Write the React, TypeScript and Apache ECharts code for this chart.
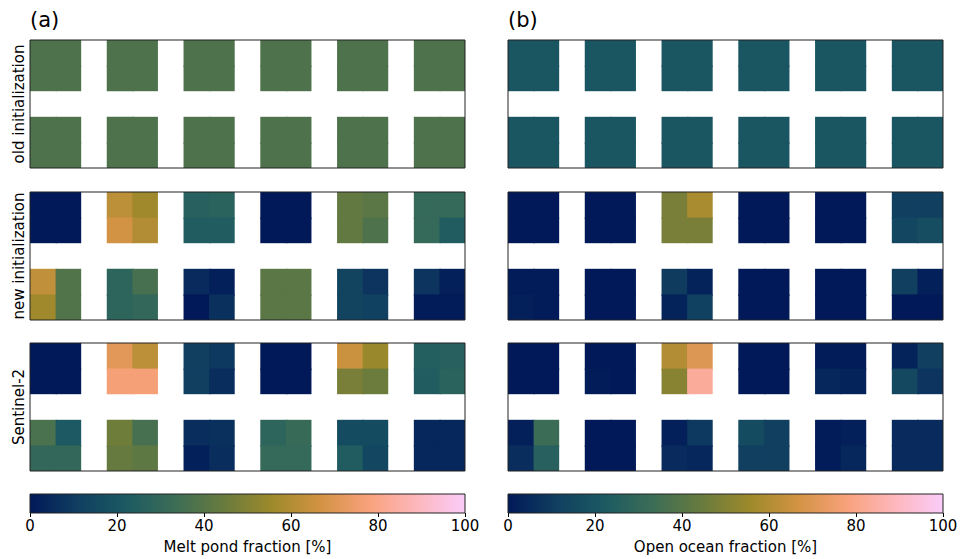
import React, { useEffect, useRef } from "react";
import * as echarts from "echarts";

// batlow colour map (Crameri), 10 stops
const BATLOW = ["#011959", "#103F60", "#1C5A62", "#3C6D56", "#687B3E", "#9D892B", "#D29343", "#F8A17B", "#FDB7BC", "#FACCFA"];

const rowLabels = ["old initialization", "new initialization", "Sentinel-2"];
const panelTitles = ["(a)", "(b)"];
const cbarNames = ["Melt pond fraction [%]", "Open ocean fraction [%]"];
const cbarTicks = [0, 20, 40, 60, 80, 100];

// Each panel: 4 data rows (top block row: rows 0-1, bottom block row: rows 2-3) x 12 data columns (6 blocks of 2)
const meltOld = [
  [38, 38, 38, 38, 38, 38, 38, 38, 38, 38, 38, 38],
  [38, 38, 38, 38, 38, 38, 38, 38, 38, 38, 38, 38],
  [38, 38, 38, 38, 38, 38, 38, 38, 38, 38, 38, 38],
  [38, 38, 38, 38, 38, 38, 38, 38, 38, 38, 38, 38],
];
const oceanOld = [
  [20, 20, 20, 20, 20, 20, 20, 20, 20, 20, 20, 20],
  [20, 20, 20, 20, 20, 20, 20, 20, 20, 20, 20, 20],
  [20, 20, 20, 20, 20, 20, 20, 20, 20, 20, 20, 20],
  [20, 20, 20, 20, 20, 20, 20, 20, 20, 20, 20, 20],
];
const meltNew = [
  [0, 0, 62, 56, 26, 27, 0, 0, 43, 41, 31, 31],
  [0, 0, 67, 60, 24, 24, 0, 0, 43, 38, 31, 24],
  [63, 39, 28, 36, 5, 2, 41, 41, 13, 8, 8, 2],
  [56, 39, 28, 30, 0, 7, 41, 41, 13, 12, 1, 1],
];
const oceanNew = [
  [0, 0, 0, 0, 48, 58, 0, 0, 0, 0, 11, 11],
  [0, 0, 0, 0, 48, 48, 0, 0, 0, 0, 14, 17],
  [1, 1, 0, 0, 10, 3, 0, 0, 0, 0, 11, 2],
  [2, 1, 0, 0, 3, 12, 0, 0, 0, 0, 0, 0],
];
const meltS2 = [
  [0, 0, 71, 62, 11, 9, 0, 0, 65, 55, 25, 26],
  [0, 0, 77, 77, 11, 6, 0, 0, 48, 45, 24, 27],
  [37, 22, 46, 36, 6, 7, 28, 32, 16, 16, 4, 4],
  [30, 30, 44, 42, 2, 6, 31, 31, 24, 14, 4, 4],
];
const oceanS2 = [
  [0, 0, 0, 0, 60, 70, 0, 0, 1, 1, 3, 11],
  [0, 0, 1, 0, 51, 83, 0, 0, 4, 3, 15, 8],
  [2, 33, 0, 0, 2, 9, 16, 11, 1, 2, 5, 5],
  [6, 26, 0, 0, 5, 4, 11, 11, 1, 4, 5, 5],
];

const FONT = "DejaVu Sans";
const N_COLS = 17;
const N_ROWS = 5;

function toCells(arr: number[][]) {
  const out: number[][] = [];
  arr.forEach((row, i) => {
    row.forEach((v, j) => {
      out.push([j + Math.floor(j / 2), i + (i >= 2 ? 1 : 0), v]);
    });
  });
  return out;
}

export default function App() {
  const ref = useRef<HTMLDivElement>(null);
  useEffect(() => {
    document.body.style.margin = "0";
    if (!ref.current) return;
    const chart = echarts.init(ref.current, null, { renderer: "svg" });

    const panels = [meltOld, oceanOld, meltNew, oceanNew, meltS2, oceanS2];
    const lefts = [30, 508];
    const tops = [40, 192, 343];
    const W = 435;
    const H = 128;

    const grids: any[] = [];
    const xAxes: any[] = [];
    const yAxes: any[] = [];
    const series: any[] = [];
    const xCats = Array.from({ length: N_COLS }, (_, i) => String(i));
    const yCats = Array.from({ length: N_ROWS }, (_, i) => String(i));

    const cellRender = (params: any, api: any) => {
      const c = api.coord([api.value(0), api.value(1)]);
      const s = api.size([1, 1]);
      const x0 = c[0] - s[0] / 2;
      const y0 = c[1] - s[1] / 2;
      // overlap neighbouring cells inside a block to avoid anti-aliasing seams
      const gx = api.value(0) % 3 === 0 ? 1.5 : 0;
      const gy = api.value(1) % 3 === 0 ? 1.5 : 0;
      return {
        type: "rect",
        shape: { x: x0, y: y0, width: s[0] + gx, height: s[1] + gy },
        style: { fill: api.visual("color") },
      };
    };

    panels.forEach((p, k) => {
      const col = k % 2;
      const row = Math.floor(k / 2);
      grids.push({
        left: lefts[col], top: tops[row], width: W, height: H,
        show: true, borderColor: "#222", borderWidth: 1, backgroundColor: "transparent",
        outerBoundsMode: "none", z: 5,
      });
      xAxes.push({ type: "category", gridIndex: k, data: xCats, show: false });
      yAxes.push({ type: "category", gridIndex: k, data: yCats, show: false, inverse: true });
      series.push({
        type: "custom", xAxisIndex: k, yAxisIndex: k, data: toCells(p),
        renderItem: cellRender, encode: { x: 0, y: 1 }, silent: true,
      });
    });

    // colour bars
    const stops = BATLOW.map((c, i) => ({ offset: i / (BATLOW.length - 1), color: c }));
    [0, 1].forEach((c) => {
      const gi = 6 + c;
      grids.push({
        left: lefts[c], top: 494, width: W, height: 19,
        show: true, borderColor: "#222", borderWidth: 1, outerBoundsMode: "none", z: 5,
      });
      xAxes.push({
        type: "value", gridIndex: gi, position: "bottom", min: cbarTicks[0], max: cbarTicks[cbarTicks.length - 1], interval: 20,
        axisLine: { show: false },
        axisTick: { show: true, length: 4, lineStyle: { color: "#000", width: 1 } },
        axisLabel: { fontSize: 15, color: "#000", margin: 5, fontFamily: FONT, formatter: (v: number) => String(v) },
        splitLine: { show: false },
        name: cbarNames[c], nameLocation: "middle", nameGap: 26,
        nameTextStyle: { fontSize: 15, color: "#000", fontFamily: FONT },
      });
      yAxes.push({ type: "category", gridIndex: gi, data: ["0"], show: false });
      series.push({
        type: "custom", xAxisIndex: gi, yAxisIndex: gi,
        data: [[cbarTicks[0], 0, cbarTicks[cbarTicks.length - 1]]],
        encode: { x: [0, 2], y: 1 }, silent: true,
        renderItem: (params: any, api: any) => {
          const a = api.coord([api.value(0), api.value(1)]);
          const b = api.coord([api.value(2), api.value(1)]);
          const h = api.size([0, 1])[1];
          return {
            type: "rect",
            shape: { x: a[0], y: a[1] - h / 2, width: b[0] - a[0], height: h },
            style: { fill: new echarts.graphic.LinearGradient(0, 0, 1, 0, stops) },
          };
        },
      });
    });

    const graphics: any[] = rowLabels.map((t, i) => ({
      type: "text", x: 19, y: tops[i] + H / 2, rotation: Math.PI / 2,
      style: { text: t, fontSize: 15, fontFamily: FONT, fill: "#000", align: "center", verticalAlign: "middle" },
    }));

    chart.setOption({
      animation: false,
      backgroundColor: "#fff",
      textStyle: { fontFamily: FONT },
      title: panelTitles.map((t, i) => ({
        text: t, left: lefts[i], top: 9,
        textStyle: { fontSize: 21, fontWeight: "normal", color: "#000", fontFamily: FONT },
        padding: 0,
      })),
      grid: grids,
      xAxis: xAxes,
      yAxis: yAxes,
      visualMap: {
        type: "continuous", min: 0, max: 100, show: false,
        seriesIndex: [0, 1, 2, 3, 4, 5],
        inRange: { color: BATLOW },
      },
      graphic: graphics,
      series,
    });
    return () => chart.dispose();
  }, []);
  return <div ref={ref} style={{ width: 960, height: 559 }} />;
}
